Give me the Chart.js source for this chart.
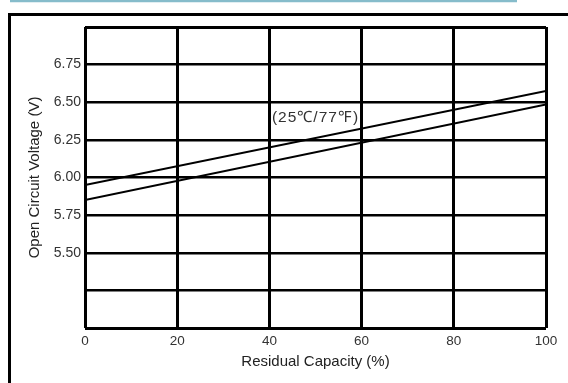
<!DOCTYPE html>
<html>
<head>
<meta charset="utf-8">
<script src="https://cdn.jsdelivr.net/npm/chart.js@4"></script>
<style>
    html, body { margin: 0; padding: 0; background: #fff; }
    #wrap { width: 568px; height: 383px; }
</style>
</head>
<body>
<div id="wrap"><canvas id="ocvChart" width="568" height="383"></canvas></div>
<script>
// values
const capacity = [0, 100];
const upperVoltage = [5.95, 6.575];
const lowerVoltage = [5.85, 6.485];
const labeledTicks = [5.50, 5.75, 6.00, 6.25, 6.50, 6.75];
const tempLabel = "(25℃/77℉)";
const tempLabelPos = { x: 50.0, y: 6.40 };

const FONT = "'Liberation Sans', Arial, sans-serif";

function toPoints(xs, ys) {
    return xs.map((x, i) => ({ x: x, y: ys[i] }));
}

// outer frame + teal rule at top, and the temperature note
const decorPlugin = {
    id: "decor",
    beforeDraw(chart) {
        const c = chart.ctx;
        c.save();
        c.fillStyle = "#fff";
        c.fillRect(0, 0, chart.width, chart.height);
        c.strokeStyle = "#86bccb";
        c.lineWidth = 2.5;
        c.beginPath();
        c.moveTo(10, 1);
        c.lineTo(517, 1);
        c.stroke();
        c.strokeStyle = "#000";
        c.lineWidth = 3;
        c.beginPath();
        c.moveTo(9.5, 390);
        c.lineTo(9.5, 14.5);
        c.lineTo(570, 14.5);
        c.stroke();
        c.restore();
    },
    afterDatasetsDraw(chart) {
        const c = chart.ctx;
        const x = chart.scales.x.getPixelForValue(tempLabelPos.x);
        const y = chart.scales.y.getPixelForValue(tempLabelPos.y);
        c.save();
        c.font = "15.5px " + FONT;
        c.letterSpacing = "1px";
        c.fillStyle = "#333";
        c.textAlign = "center";
        c.textBaseline = "middle";
        c.fillText(tempLabel, x, y);
        c.restore();
    }
};

const ctx = document.getElementById("ocvChart").getContext("2d");
new Chart(ctx, {
    type: "line",
    data: {
        datasets: [{
            label: "upper",
            data: toPoints(capacity, upperVoltage),
            borderColor: "#000",
            borderWidth: 2,
            pointRadius: 0
        }, {
            label: "lower",
            data: toPoints(capacity, lowerVoltage),
            borderColor: "#000",
            borderWidth: 2,
            pointRadius: 0
        }]
    },
    options: {
        responsive: false,
        animation: false,
        layout: { padding: { left: 0, top: 27, right: 22, bottom: 0 } },
        plugins: {
            legend: { display: false },
            tooltip: { enabled: false }
        },
        scales: {
            x: {
                type: "linear",
                min: 0,
                max: 100,
                afterFit(scale) { scale.height = 55; },
                border: { display: false },
                grid: {
                    color: "#000",
                    lineWidth: 3,
                    drawTicks: false
                },
                ticks: {
                    stepSize: 20,
                    padding: 5,
                    color: "#333",
                    font: { family: FONT, size: 13.5 }
                },
                title: {
                    display: true,
                    text: "Residual Capacity (%)",
                    color: "#222",
                    padding: { top: 0, bottom: 12 },
                    font: { family: FONT, size: 15 }
                }
            },
            y: {
                min: 5,
                max: 7,
                afterFit(scale) { scale.width = 85; },
                border: { display: false },
                grid: {
                    color: "#000",
                    lineWidth: c => (c.index === 0 || c.tick.value === 7) ? 3 : 2.5,
                    drawTicks: false
                },
                ticks: {
                    stepSize: 0.25,
                    padding: 4,
                    color: "#333",
                    font: { family: FONT, size: 14 },
                    callback: v => labeledTicks.some(t => Math.abs(t - v) < 1e-6) ? v.toFixed(2) : ""
                },
                title: {
                    display: true,
                    text: "Open Circuit Voltage (V)",
                    color: "#222",
                    padding: { top: 26, bottom: 0 },
                    font: { family: FONT, size: 15 }
                }
            }
        }
    },
    plugins: [decorPlugin]
});
</script>
</body>
</html>
